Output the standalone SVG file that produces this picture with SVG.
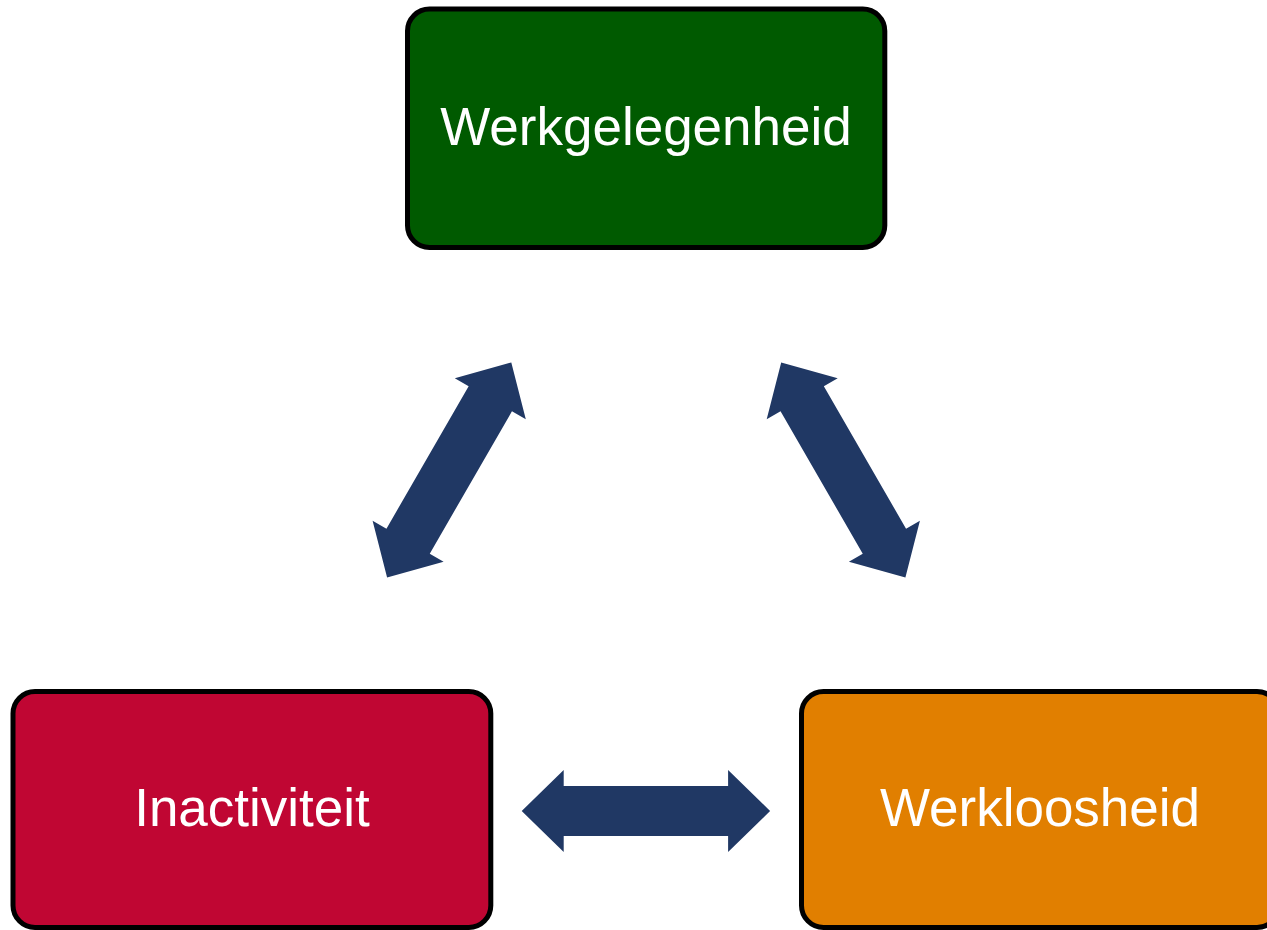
<svg xmlns="http://www.w3.org/2000/svg" width="1267" height="930" viewBox="0 0 1267 930">
<style>
.box{stroke:#000;stroke-width:5}
.lbl{font-family:"Liberation Sans",Arial,sans-serif;font-size:53px;fill:#fff;text-anchor:middle}
.arr{fill:#203864}
</style>
<defs>
<path id="dbl" d="M -124.2 0 L -82.2 -41 L -82.2 -25 L 82.2 -25 L 82.2 -41 L 124.2 0 L 82.2 41 L 82.2 25 L -82.2 25 L -82.2 41 Z"/>
</defs>
<rect width="1267" height="930" fill="#fff"/>
<g id="connectors">
<use href="#dbl" class="arr" transform="translate(449.2 470) rotate(-60)"/>
<use href="#dbl" class="arr" transform="translate(843.3 470) rotate(60)"/>
<use href="#dbl" class="arr" transform="translate(645.9 811)"/>
</g>
<g id="werkgelegenheid">
<rect class="box" x="407.5" y="9" width="477.3" height="238.5" rx="22" ry="22" fill="#005A00"/>
<text class="lbl" x="646" y="145">Werkgelegenheid</text>
</g>
<g id="inactiviteit">
<rect class="box" x="13" y="691.5" width="477.8" height="236" rx="22" ry="22" fill="#C00633"/>
<text class="lbl" x="252" y="826">Inactiviteit</text>
</g>
<g id="werkloosheid">
<rect class="box" x="801.5" y="691.5" width="477.5" height="236" rx="22" ry="22" fill="#E17F00"/>
<text class="lbl" x="1040" y="826">Werkloosheid</text>
</g>
</svg>
